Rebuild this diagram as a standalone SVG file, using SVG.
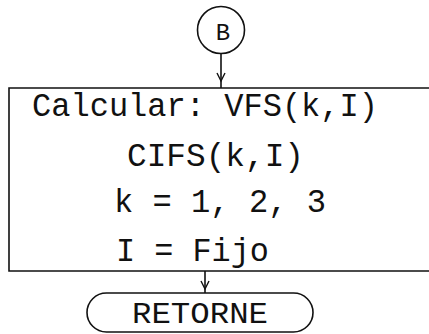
<svg xmlns="http://www.w3.org/2000/svg" width="429" height="334" viewBox="0 0 429 334">
<defs>
<style>
.ln{fill:none;stroke:#111;stroke-width:1.6}
.tx{font-family:"Liberation Mono","Courier New",monospace;fill:#111;font-size:33px}
.ah{fill:none;stroke:#111;stroke-width:1.4}
</style>
</defs>
<rect width="429" height="334" fill="#fff"/>
<g id="connectors">
<line class="ln" x1="221" y1="54" x2="221" y2="88"/>
<path class="ah" d="M217,73 L221,81 L225,73"/>
<line class="ln" x1="205" y1="271" x2="205" y2="293"/>
<path class="ah" d="M201,281 L205,289 L209,281"/>
</g>
<g id="nodeB">
<circle class="ln" cx="221" cy="30" r="23.5"/>
<text class="tx" x="223" y="40" text-anchor="middle" style="font-size:24px">B</text>
</g>
<g id="process">
<path class="ln" d="M429,88 H9 V271 H429"/>
<text class="tx" x="32" y="116" textLength="346" lengthAdjust="spacingAndGlyphs">Calcular: VFS(k,I)</text>
<text class="tx" x="127" y="166" textLength="177" lengthAdjust="spacingAndGlyphs">CIFS(k,I)</text>
<text class="tx" x="114" y="212" textLength="212" lengthAdjust="spacingAndGlyphs">k = 1, 2, 3</text>
<text class="tx" x="116" y="261" textLength="153" lengthAdjust="spacingAndGlyphs">I = Fijo</text>
</g>
<g id="retorne">
<rect class="ln" x="87" y="293" width="226" height="39" rx="19.5" ry="19.5"/>
<text class="tx" x="132" y="323" textLength="136" lengthAdjust="spacingAndGlyphs" style="font-size:30px">RETORNE</text>
</g>
</svg>
